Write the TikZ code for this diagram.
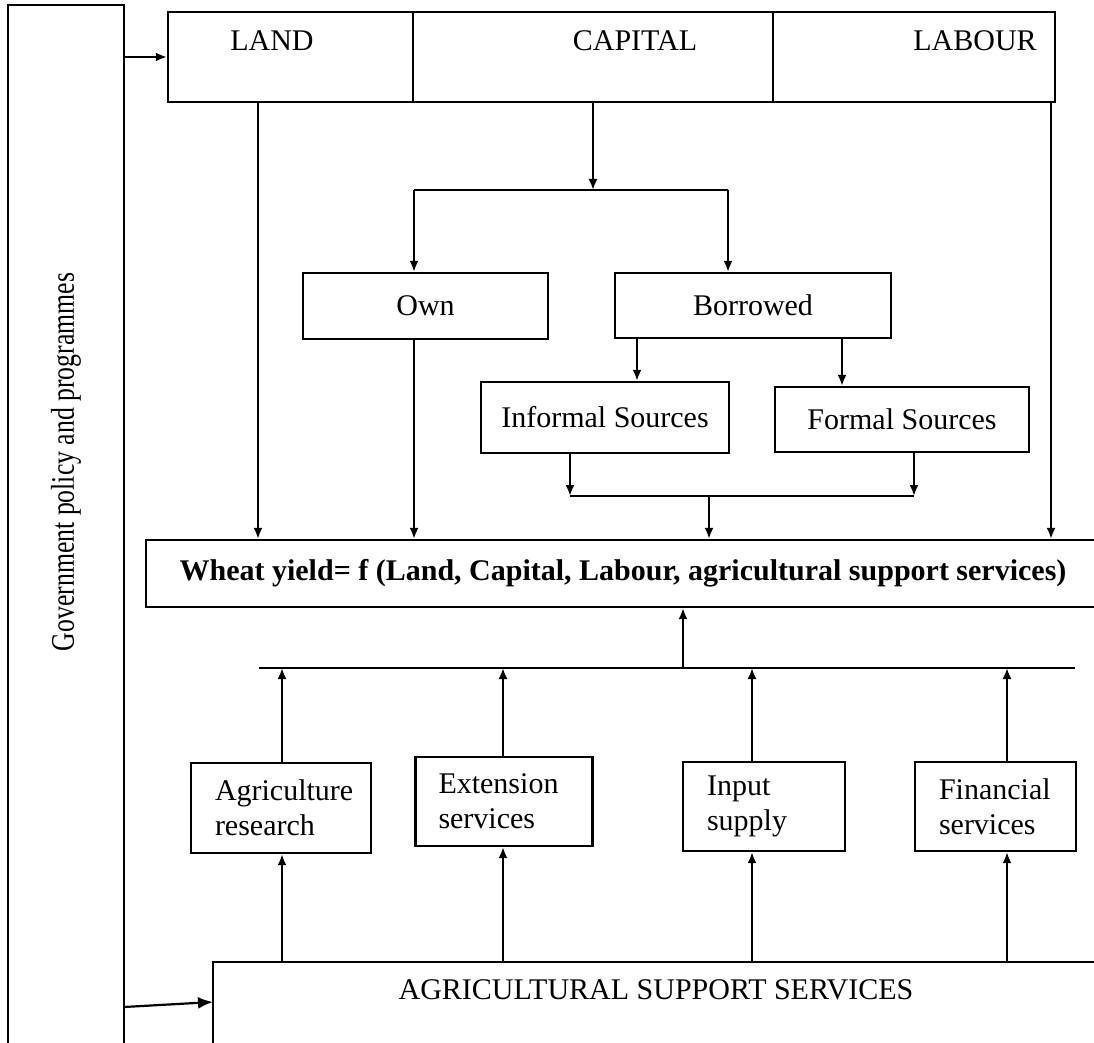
\documentclass[tikz,border=0pt]{standalone}
\usepackage{fontspec}
\setmainfont{Liberation Serif}
\usepackage{graphicx}
\usetikzlibrary{arrows.meta,positioning,calc}

\begin{document}
\begin{tikzpicture}[x=1pt,y=-1pt,
	line width=2.2pt,
	>={Latex[length=11pt,width=9pt]},
	every node/.style={font=\fontsize{30}{35}\selectfont},
	cell/.style={draw, inner sep=0pt},
	svc/.style={draw, align=left, inner xsep=24pt, inner ysep=0pt, minimum height=89pt}]
	\path[use as bounding box, clip] (0,0) rectangle (1094,1043);

	% government box on the left
	\node[cell, minimum width=116pt, minimum height=1060pt] (gov) at (66,535) {};
	\node[rotate=90, font=\fontsize{33}{38}\selectfont] (govlbl) at (66,462) {\scalebox{0.78}[1]{Government policy and programmes}};

	% land, capital, labour
	\node[cell, minimum width=245pt, minimum height=90pt] (land) at (290.5,57) {};
	\node[cell, minimum width=360pt, minimum height=90pt] (capital) at (593,57) {};
	\node[cell, minimum width=282pt, minimum height=90pt] (labour) at (914,57) {};
	\node (landlbl) at (272,41) {LAND};
	\node (caplbl) at (635,41) {CAPITAL};
	\node (lablbl) at (975,41) {LABOUR};

	% sources of capital
	\node[cell, minimum width=245pt, minimum height=66pt] (own) at (425.5,306) {Own};
	\node[cell, minimum width=276pt, minimum height=65pt] (borrowed) at (753,305.5) {Borrowed};
	\node[cell, minimum width=248pt, minimum height=71pt] (informal) at (605,417.5) {Informal Sources};
	\node[cell, minimum width=254pt, minimum height=65pt] (formal) at (902,419.5) {Formal Sources};

	% production function
	\node[cell, minimum width=954pt, minimum height=67pt] (wheat) at (623,573.5)
		{\bfseries Wheat yield= f (Land, Capital, Labour, agricultural support services)};

	% support services
	\node[svc, text width=132pt, minimum height=90pt] (agri) at (281,808) {Agriculture\\research};
	\node[svc, text width=131pt, inner xsep=23pt] (ext) at (504,801.5) {Extension\\services};
	\node[svc, text width=114pt] (input) at (764,806.5) {Input\\supply};
	\node[svc, text width=113pt] (fin) at (995.5,806.5) {Financial\\services};
	\node[cell, minimum width=897pt, minimum height=100pt] (ass) at (661.5,1012) {};
	\node (asslbl) at (656,990) {AGRICULTURAL SUPPORT SERVICES};

	% government arrows
	\draw[->] (gov.east |- land.west) -- (land.west);
	\coordinate (govout) at (124,1007);
	\coordinate (assin) at (213,1002);
	\draw[-{Latex[length=15pt,width=12pt]}] (govout) -- (assin);

	% land and labour into yield
	\coordinate (landx) at (258,0);
	\coordinate (labx) at (1051,0);
	\draw[->] (land.south -| landx) -- (wheat.north -| landx);
	\draw[->] (labour.south -| labx) -- (wheat.north -| labx);

	% capital split
	\coordinate (split) at (593,190);
	\coordinate (ownx) at (414,190);
	\coordinate (borx) at (728,190);
	\draw[->] (capital.south) -- (split);
	\draw (ownx) -- (borx);
	\draw[->] (ownx) -- (own.north -| ownx);
	\draw[->] (borx) -- (borrowed.north -| borx);
	\draw[->] (own.south -| ownx) -- (wheat.north -| ownx);

	\coordinate (infx) at (637,0);
	\coordinate (forx) at (842,0);
	\draw[->] (borrowed.south -| infx) -- (informal.north -| infx);
	\draw[->] (borrowed.south -| forx) -- (formal.north -| forx);

	\coordinate (joinl) at (570,496);
	\coordinate (joinr) at (914,496);
	\coordinate (joinx) at (709,496);
	\draw[->] (informal.south -| joinl) -- (joinl);
	\draw[->] (formal.south -| joinr) -- (joinr);
	\draw (joinl) -- (joinr);
	\draw[->] (joinx) -- (wheat.north -| joinx);

	% services into yield
	\coordinate (busl) at (259,668);
	\coordinate (busr) at (1075,668);
	\coordinate (busx) at (683,668);
	\draw (busl) -- (busr);
	\draw[->] (busx) -- (wheat.south -| busx);
	\foreach \n/\x in {agri/282, ext/503, input/752, fin/1007} {
		\coordinate (sx) at (\x,0);
		\draw[->] (ass.north -| sx) -- (\n.south -| sx);
		\draw[->] (\n.north -| sx) -- (busl -| sx);
	}
\end{tikzpicture}
\end{document}
